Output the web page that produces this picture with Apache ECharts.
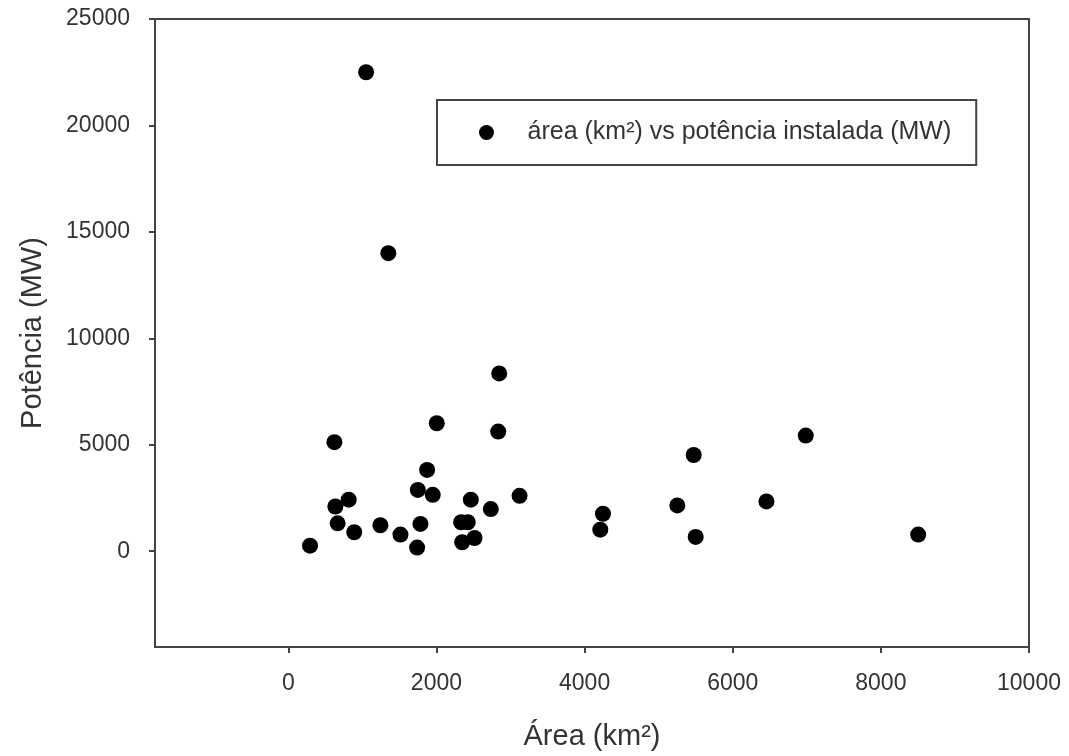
<!DOCTYPE html>
<html>
<head>
<meta charset="utf-8">
<title>Área vs Potência</title>
<script src="https://cdn.jsdelivr.net/npm/echarts@6/dist/echarts.min.js"></script>
<style>
    html, body { margin: 0; padding: 0; background: #fff; }
    #chart { width: 1069px; height: 756px; }
</style>
</head>
<body>
<div id="chart"></div>
<script>
    // área (km²) de cada ponto
    var areaKm2 = [293, 622, 635, 666, 815, 890, 1050, 1243, 1350, 1514, 1739, 1784, 1748, 1874, 1950, 2004,
        2333, 2423, 2347, 2514, 2464, 2734, 2847, 2834, 3122, 4212, 4248, 5252, 5473, 5500, 6455, 6986, 8504]
    // potência instalada (MW)
    var potenciaMW = [260, 5120, 2100, 1310, 2420, 890, 22500, 1220, 14000, 780, 170, 1280, 2880, 3820, 2650, 6010,
        1360, 1360, 420, 620, 2420, 1980, 8350, 5620, 2600, 1010, 1760, 2150, 4520, 670, 2340, 5430, 780]
    var xTicks = [0, 2000, 4000, 6000, 8000, 10000]
    var yTicks = [0, 5000, 10000, 15000, 20000, 25000]
    var seriesName = 'área (km²) vs potência instalada (MW)'

    var points = areaKm2.map(function (a, i) { return [a, potenciaMW[i]] })
    var font = 'Arial, "Liberation Sans", sans-serif'
    var ink = '#333'
    var plain = function (v) { return String(v) }   // sem separador de milhar

    var chart = echarts.init(document.getElementById('chart'))
    chart.setOption({
        animation: false,
        backgroundColor: '#fff',
        grid: {left: 155, top: 19, right: 40, bottom: 108, show: true, borderColor: '#444', borderWidth: 2},
        legend: {
            left: 437, top: 100,
            padding: [20, 25, 20, 42],
            borderColor: '#444', borderWidth: 2,
            itemWidth: 72, itemHeight: 15,
            icon: 'circle',
            textStyle: {fontFamily: font, fontSize: 25, color: ink},
            data: [seriesName]
        },
        xAxis: {
            type: 'value', min: -1800, max: 10000,
            name: 'Área (km²)', nameLocation: 'middle', nameGap: 75,
            nameTextStyle: {fontFamily: font, fontSize: 29, color: ink},
            splitLine: {show: false},
            axisLine: {onZero: false, lineStyle: {color: '#444', width: 2}},
            axisTick: {show: true, length: 6, lineStyle: {color: '#444', width: 2}, customValues: xTicks},
            axisLabel: {margin: 25, fontFamily: font, fontSize: 23, color: ink, customValues: xTicks, formatter: plain}
        },
        yAxis: {
            type: 'value', min: -4500, max: 25000,
            name: 'Potência (MW)', nameLocation: 'middle', nameGap: 108,
            nameTextStyle: {fontFamily: font, fontSize: 29, color: ink},
            splitLine: {show: false},
            axisLine: {onZero: false, lineStyle: {color: '#444', width: 2}},
            axisTick: {show: true, length: 6, lineStyle: {color: '#444', width: 2}, customValues: yTicks},
            axisLabel: {margin: 25, fontFamily: font, fontSize: 23, color: ink, customValues: yTicks, formatter: plain}
        },
        series: [{
            name: seriesName,
            type: 'scatter',
            symbol: 'circle',
            symbolSize: 16,
            itemStyle: {color: '#000', opacity: 1},
            data: points
        }]
    })
</script>
</body>
</html>
